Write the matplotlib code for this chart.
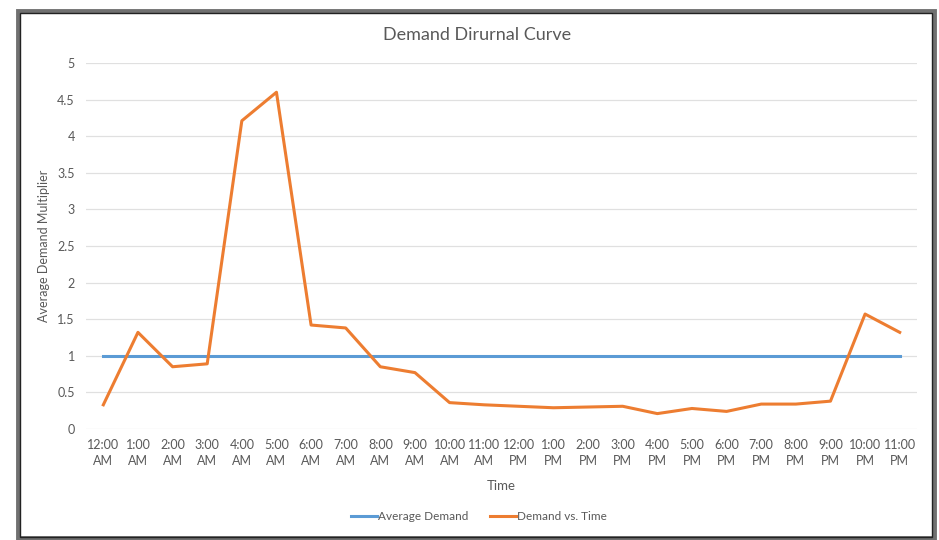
"""
    Demand dirurnal curve: hourly demand multiplier vs. the average
"""

import numpy as np
from matplotlib import pyplot as plt
from matplotlib.patches import Rectangle

hours = ["12:00\nAM", "1:00\nAM", "2:00\nAM", "3:00\nAM", "4:00\nAM", "5:00\nAM",
         "6:00\nAM", "7:00\nAM", "8:00\nAM", "9:00\nAM", "10:00\nAM", "11:00\nAM",
         "12:00\nPM", "1:00\nPM", "2:00\nPM", "3:00\nPM", "4:00\nPM", "5:00\nPM",
         "6:00\nPM", "7:00\nPM", "8:00\nPM", "9:00\nPM", "10:00\nPM", "11:00\nPM"]
demand = [0.33, 1.32, 0.85, 0.89, 4.21, 4.60, 1.42, 1.38, 0.85, 0.77, 0.36, 0.33,
          0.31, 0.29, 0.30, 0.31, 0.21, 0.28, 0.24, 0.34, 0.34, 0.38, 1.57, 1.32]
average = [1.0] * len(hours)

TEXT = "#595959"
plt.rcParams['font.family'] = ['Lato', 'DejaVu Sans']

fig = plt.figure(figsize=(9.39, 5.4), dpi=100)
ax = fig.add_axes([0.0916, 0.2056, 0.885, 0.6778])

x = np.arange(len(hours))
ax.plot(x, average, color="#5B9BD5", lw=2.2, label="Average Demand")
ax.plot(x, demand, color="#ED7D31", lw=2.2, label="Demand vs. Time")

ax.set_xlim(-0.5, len(hours) - 0.5)
ax.set_ylim(0, 5)
ax.set_yticks(np.arange(0, 5.01, 0.5))
ax.set_yticklabels(["0", "0.5", "1", "1.5", "2", "2.5", "3", "3.5", "4", "4.5", "5"])
ax.set_xticks(x)
ax.set_xticklabels(hours, linespacing=1.45)
ax.tick_params(length=0, labelsize=9, colors=TEXT)
ax.tick_params(axis='x', pad=7)
ax.tick_params(axis='y', pad=8)
ax.grid(axis='y', color="#e0e0e0", lw=0.9)
ax.set_axisbelow(True)
for s in ax.spines.values():
    s.set_visible(False)

ax.set_xlabel("Time", fontsize=9.5, color=TEXT, labelpad=9)
ax.set_ylabel("Average Demand Multiplier", fontsize=9, color=TEXT, va="center")
ax.yaxis.set_label_coords(-0.05, 0.5)
fig.text(0.508, 0.935, "Demand Dirurnal Curve", ha="center", va="center",
         fontsize=13, color=TEXT)

fig.legend(loc="center", bbox_to_anchor=(0.51, 0.043), ncol=2, frameon=False,
           fontsize=8.5, labelcolor=TEXT, handlelength=2.2, handletextpad=0.1,
           columnspacing=1.8)

# screenshot-style frame round the chart
fig.patches.append(Rectangle((18 / 939, 2 / 540), 916 / 939, 527 / 540,
                             transform=fig.transFigure, fill=False,
                             edgecolor="#707070", lw=3.5))
fig.patches.append(Rectangle((20 / 939, 3 / 540), 912 / 939, 524 / 540,
                             transform=fig.transFigure, fill=False,
                             edgecolor="#222222", lw=1.0))

plt.savefig("out.png", dpi=100)
